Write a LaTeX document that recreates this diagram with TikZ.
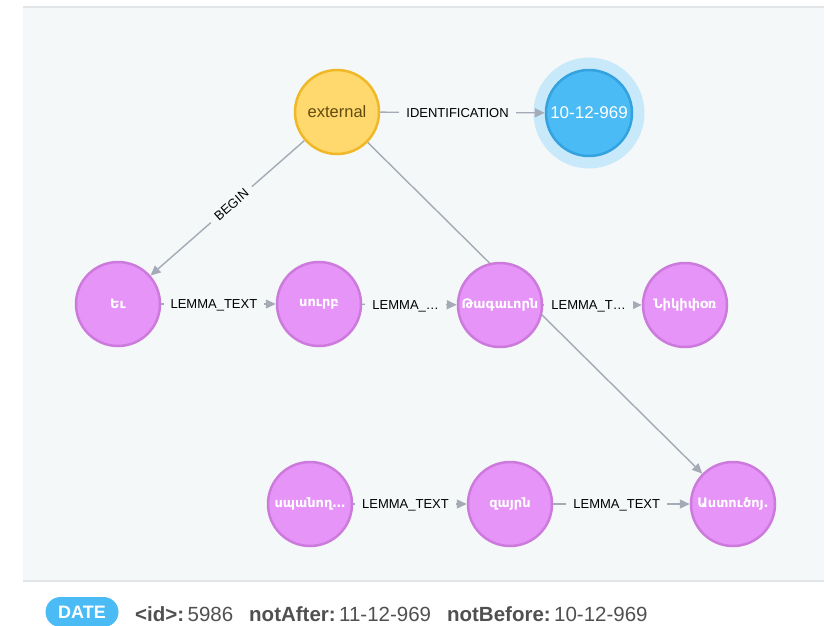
\documentclass[tikz,border=0pt]{standalone}
\usepackage{fontspec}
\setmainfont{Liberation Sans}
\newfontfamily\armfont{DejaVu Sans}
\usetikzlibrary{arrows.meta,positioning}

\pgfdeclarelayer{panel}
\pgfdeclarelayer{edges}
\pgfsetlayers{panel,edges,main}

\definecolor{panelbg}{RGB}{244,248,249}
\definecolor{panelline}{RGB}{226,229,232}
\definecolor{relgray}{RGB}{165,171,182}
\definecolor{extfill}{RGB}{255,216,110}
\definecolor{extline}{RGB}{240,184,38}
\definecolor{exttext}{RGB}{96,74,14}
\definecolor{datefill}{RGB}{74,187,245}
\definecolor{dateline}{RGB}{52,162,222}
\definecolor{datehalo}{RGB}{200,233,250}
\definecolor{lemmafill}{RGB}{230,148,247}
\definecolor{lemmaline}{RGB}{204,122,220}
\definecolor{infotext}{RGB}{80,80,80}

\begin{document}
\begin{tikzpicture}[x=1pt, y=-1pt]
    % --- Styles ---
    \tikzstyle{entity}=[circle, minimum size=84pt, inner sep=0pt, line width=2.5pt]
    \tikzstyle{external_node}=[entity, draw=extline, fill=extfill, text=exttext, font=\fontsize{16.5}{18}\selectfont]
    \tikzstyle{date_node}=[entity, minimum size=86pt, draw=dateline, fill=datefill, text=white, font=\fontsize{17}{19}\selectfont]
    \tikzstyle{lemma_node}=[entity, draw=lemmaline, fill=lemmafill, text=white, font=\armfont\bfseries\fontsize{13}{15}\selectfont]
    \tikzstyle{relation}=[line width=1.4pt, draw=relgray, -{Triangle[length=10pt, width=9pt]}]
    \tikzstyle{rel_label}=[fill=panelbg, text=black, font=\fontsize{13}{15}\selectfont, inner xsep=7pt, inner ysep=1pt, text height=9.3pt, text depth=0pt]
    \tikzstyle{date_badge}=[fill=datefill, text=white, rounded corners=15pt, minimum width=73pt, minimum height=30pt, inner sep=0pt, font=\bfseries\fontsize{18}{20}\selectfont]
    \tikzstyle{info_text}=[text=infotext, inner sep=0pt, font=\fontsize{20.5}{22}\selectfont]

    \useasboundingbox (0,0) rectangle (828,625);

    % --- 1. Nodes ---
    \node[external_node] (external) at (337,112) {external};
    \node[date_node] (date) at (589,113) {10-12-969};

    % sentence on the middle row
    \node[lemma_node] (ew) at (118,304) {Եւ};
    \node[lemma_node] (surb) at (319,304) {սուրբ};
    \node[lemma_node] (tagawor) at (500,305) {Թագաւորն};
    \node[lemma_node] (nikif) at (685,305) {Նիկիփօռ};

    % sentence on the bottom row
    \node[lemma_node] (spanogh) at (310,504) {սպանող…};
    \node[lemma_node] (zayrn) at (510,504) {զայրն};
    \node[lemma_node] (astucoy) at (733,504) {Աստուծոյ.};

    % --- 2. Panel and halo ---
    \begin{pgfonlayer}{panel}
        \fill[panelbg] (23,7) rectangle (824,581);
        \draw[panelline, line width=1.5pt] (23,7) -- (824,7);
        \draw[panelline, line width=1.5pt] (23,581) -- (824,581);
        \fill[datehalo] (date.center) circle (55.5);
    \end{pgfonlayer}

    % --- 3. Relations ---
    \begin{pgfonlayer}{edges}
        \draw[relation] (external) -- node[rel_label, pos=0.47] {IDENTIFICATION} (date);
        \draw[relation] (external) -- node[rel_label, sloped, pos=0.475] {BEGIN} (ew);
        \draw[relation] (external) -- (astucoy);
        \draw[relation] (ew) -- node[rel_label, pos=0.46] {LEMMA\_TEXT} (surb);
        \draw[relation] (surb) -- node[rel_label, pos=0.46] {LEMMA\_…} (tagawor);
        \draw[relation] (tagawor) -- node[rel_label, pos=0.46] {LEMMA\_T…} (nikif);
        \draw[relation] (spanogh) -- node[rel_label, pos=0.46] {LEMMA\_TEXT} (zayrn);
        \draw[relation] (zayrn) -- node[rel_label, pos=0.465] {LEMMA\_TEXT} (astucoy);
    \end{pgfonlayer}

    % --- 4. Properties of the selected node ---
    \node[date_badge] (badge) at (82,612) {DATE};
    \node[info_text, anchor=base west] (props) at (135,621)
        {\textbf{<id>:}\,5986\hspace{16pt}\textbf{notAfter:}\,11-12-969\hspace{16pt}\textbf{notBefore:}\,10-12-969};
\end{tikzpicture}
\end{document}
